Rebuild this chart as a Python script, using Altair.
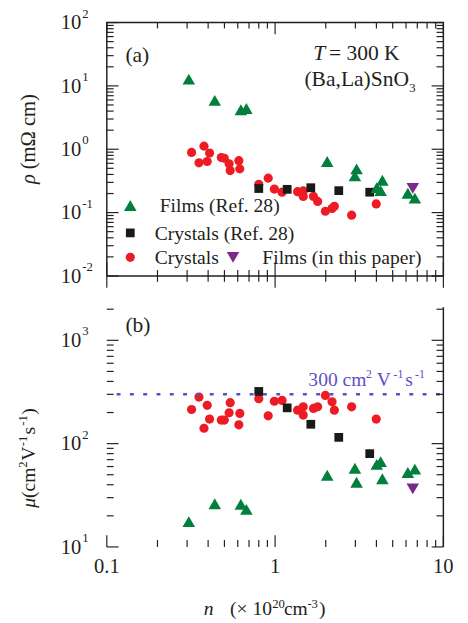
import altair as alt
import pandas as pd

FONT = "Liberation Serif"
INK = "#231f20"

# ---------------- data (n in 1e20 cm^-3) ----------------
red_n = [0.319, 0.378, 0.353, 0.408, 0.395, 0.479, 0.499, 0.533, 0.609, 0.541, 0.617, 0.80, 0.91,
         0.99, 1.10, 1.36, 1.47, 1.47, 1.69, 1.79, 1.99, 2.18, 2.25, 2.85, 3.99]
red_rho = [0.89, 1.12, 0.61, 0.87, 0.64, 0.74, 0.72, 0.59, 0.66, 0.46, 0.49, 0.28, 0.35,
           0.235, 0.21, 0.214, 0.22, 0.18, 0.18, 0.15, 0.105, 0.116, 0.126, 0.091, 0.137]
red_mu = [214, 141, 282, 173, 235, 169, 169, 199, 152, 249, 196, 272, 186,
          257, 262, 211, 189, 227, 219, 227, 293, 254, 211, 227, 173]

black_n = [0.80, 1.18, 1.63, 2.39, 3.65]
black_rho = [0.24, 0.233, 0.247, 0.222, 0.21]
black_mu = [320, 222, 154, 115, 80]

green_n = [0.307, 0.438, 0.626, 0.675, 2.04, 2.98, 3.05, 4.02, 4.24, 4.34, 6.15, 6.77]
green_rho = [12.8, 5.9, 4.2, 4.4, 0.64, 0.38, 0.49, 0.247, 0.222, 0.324, 0.202, 0.169]
green_mu = [17.6, 26.2, 25.9, 23.1, 49.5, 57.8, 42.3, 63, 67, 45.7, 52.6, 56.6]

purple_n = [6.58]
purple_rho = [0.241]
purple_mu = [36.5]

ref_mu = [300]

# axis ticks / labels
x_major = [0.1, 1, 10]
x_labels = ["0.1", "1", "10"]
x_minor = [0.2, 0.3, 0.4, 0.5, 0.6, 0.7, 0.8, 0.9, 2, 3, 4, 5, 6, 7, 8, 9]
ya_major = [0.01, 0.1, 1, 10, 100]
ya_exp = ["-2", "-1", "0", "1", "2"]
ya_minor = [k * d for d in [0.01, 0.1, 1, 10] for k in range(2, 10)]
yb_major = [10, 100, 1000]
yb_exp = ["1", "2", "3"]
yb_minor = [k * d for d in [10, 100] for k in range(2, 10)] + [2000]

W, HA, HB = 344, 259, 245

xs = alt.Scale(type="log", domain=[0.1, 10], nice=False)
ysa = alt.Scale(type="log", domain=[0.01, 100], nice=False)
ysb = alt.Scale(type="log", domain=[10, 2090], nice=False)

COL_RED, COL_BLACK, COL_GREEN, COL_PURPLE = "#ed1c24", "#1a1a1a", "#00803c", "#7b2a8a"
COL_REF = "#5b4fc9"
S_CIR, S_SQ, S_TRI = 88, 80, 165


def pts(ns, vs, ys, shape, size, color, axis=None):
    df = pd.DataFrame({"n": ns, "v": vs})
    if axis is None:
        xe = alt.X("n:Q", scale=xs, axis=None)
        ye = alt.Y("v:Q", scale=ys, axis=None)
    else:
        xe = alt.X("n:Q", scale=xs, axis=axis, title=None)
        ye = alt.Y("v:Q", scale=ys, axis=axis, title=None)
    return alt.Chart(df).mark_point(shape=shape, size=size, filled=True, color=color,
                                    opacity=1, strokeWidth=0).encode(x=xe, y=ye)


def yticks(vals, ys, length, side):
    df = pd.DataFrame({"v": vals})
    if side == "left":
        x1, x2 = 0, length
    else:
        x1, x2 = W, W - length
    return alt.Chart(df).mark_rule(color=INK, strokeWidth=1.2).encode(
        y=alt.Y("v:Q", scale=ys, axis=None), x=alt.value(x1), x2=alt.value(x2))


def xticks(vals, y1, y2):
    df = pd.DataFrame({"v": vals})
    return alt.Chart(df).mark_rule(color=INK, strokeWidth=1.2).encode(
        x=alt.X("v:Q", scale=xs, axis=None), y=alt.value(y1), y2=alt.value(y2))


def ylabels(vals, exps, ys):
    df = pd.DataFrame({"v": vals, "e": exps, "b": ["10"] * len(vals)})
    base = alt.Chart(df).mark_text(align="right", baseline="alphabetic", dy=7, font=FONT,
                                   fontSize=21, color=INK).encode(
        y=alt.Y("v:Q", scale=ys, axis=None), x=alt.value(-26), text="b:N")
    sup = alt.Chart(df).mark_text(align="left", baseline="alphabetic", dy=-5, font=FONT,
                                  fontSize=13, color=INK).encode(
        y=alt.Y("v:Q", scale=ys, axis=None), x=alt.value(-25), text="e:N")
    return [base, sup]


def txt(s, x, y, size=20, color=INK, align="left", style="normal", angle=0, baseline="alphabetic"):
    df = pd.DataFrame({"t": [s]})
    return alt.Chart(df).mark_text(align=align, baseline=baseline, font=FONT, fontSize=size,
                                   color=color, fontStyle=style, angle=angle).encode(
        x=alt.value(x), y=alt.value(y), text="t:N")


def vtxt(s, x, y, size=20, style="normal"):
    return txt(s, x, y, size=size, style=style, align="left", angle=270, baseline="middle")


def sym(x, y, shape, size, color):
    df = pd.DataFrame({"k": [0]})
    return alt.Chart(df).mark_point(shape=shape, size=size, filled=True, color=color,
                                    opacity=1, strokeWidth=0).encode(x=alt.value(x), y=alt.value(y))


# ---------------- panel (a) ----------------
layers_a = [
    pts(red_n, red_rho, ysa, "circle", S_CIR, COL_RED),
    pts(black_n, black_rho, ysa, "square", S_SQ, COL_BLACK),
    pts(green_n, green_rho, ysa, "triangle-up", S_TRI, COL_GREEN),
    pts(purple_n, purple_rho, ysa, "triangle-down", S_TRI, COL_PURPLE),
    yticks(ya_major, ysa, 12, "left"), yticks(ya_minor, ysa, 7, "left"),
    yticks(ya_major, ysa, 12, "right"), yticks(ya_minor, ysa, 7, "right"),
    xticks(x_major, 0, 12), xticks(x_minor, 0, 6),
    xticks(x_major, HA - 14, HA + 12), xticks(x_minor, HA - 6, HA + 6),
    *ylabels(ya_major, ya_exp, ysa),
    txt("(a)", 19, 40, size=22),
    txt("T", 211, 38, size=22, style="italic"),
    txt("= 300 K", 227, 38, size=22),
    txt("(Ba,La)SnO", 202, 65, size=22),
    txt("3", 309, 71, size=13),
    sym(24, 187, "triangle-up", S_TRI, COL_GREEN),
    txt("Films (Ref. 28)", 54, 194),
    sym(24, 215, "square", S_SQ, COL_BLACK),
    txt("Crystals (Ref. 28)", 49, 222),
    sym(24, 240, "circle", S_CIR, COL_RED),
    txt("Crystals", 49, 247),
    sym(129, 240, "triangle-down", S_TRI, COL_PURPLE),
    txt("Films (in this paper)", 159, 247),
    vtxt("ρ", -79, 165, size=21, style="italic"),
    vtxt("(mΩ cm)", -79, 150, size=21),
]
panel_a = alt.layer(*layers_a).properties(width=W, height=HA)

# ---------------- panel (b) ----------------
dom_axis = alt.Axis(labels=False, ticks=False, grid=False, domainColor=INK, domainWidth=1.5)
ref_df = pd.DataFrame({"m": ref_mu})
xl_df = pd.DataFrame({"v": x_major, "l": x_labels})
layers_b = [
    pts(red_n, red_mu, ysb, "circle", S_CIR, COL_RED, axis=dom_axis),
    pts(black_n, black_mu, ysb, "square", S_SQ, COL_BLACK),
    pts(green_n, green_mu, ysb, "triangle-up", S_TRI, COL_GREEN),
    pts(purple_n, purple_mu, ysb, "triangle-down", S_TRI, COL_PURPLE),
    alt.Chart(ref_df).mark_rule(color=COL_REF, strokeWidth=2.5, strokeDash=[4, 9.6]).encode(
        y=alt.Y("m:Q", scale=ysb, axis=None), x=alt.value(10), x2=alt.value(W)),
    alt.Chart(pd.DataFrame({"k": [0]})).mark_rule(color=INK, strokeWidth=1.5).encode(
        x=alt.value(W), y=alt.value(0), y2=alt.value(HB)),
    yticks(yb_major, ysb, 12, "left"), yticks(yb_minor, ysb, 7, "left"),
    yticks(yb_major, ysb, 12, "right"), yticks(yb_minor, ysb, 7, "right"),
    xticks(x_major, HB - 12, HB), xticks(x_minor, HB - 7, HB),
    *ylabels(yb_major, yb_exp, ysb),
    alt.Chart(xl_df).mark_text(align="center", baseline="alphabetic", font=FONT, fontSize=21,
                               color=INK).encode(
        x=alt.X("v:Q", scale=xs, axis=None), y=alt.value(HB + 27), text="l:N"),
    txt("(b)", 19, 25, size=22),
    # 300 cm^2 V^-1 s^-1 annotation
    txt("300 cm", 206, 80, size=20, color=COL_REF),
    txt("2", 265, 72, size=12, color=COL_REF),
    txt("V", 276, 80, size=20, color=COL_REF),
    txt("-1", 293, 72, size=12, color=COL_REF),
    txt("s", 305, 80, size=20, color=COL_REF),
    txt("-1", 315, 72, size=12, color=COL_REF),
    # x title: n (x 10^20 cm^-3)
    txt("n", 99, 315, size=20, style="italic"),
    txt("(× 10", 126, 315, size=20),
    txt("20", 169, 307, size=13),
    txt("cm", 181, 315, size=20),
    txt("-3", 205, 307, size=13),
    txt(")", 217, 315, size=20),
    # y title: mu (cm^2 V^-1 s^-1)
    vtxt("μ", -79, 205, size=20, style="italic"),
    vtxt("(cm", -79, 195, size=20),
    vtxt("2", -86, 164, size=13),
    vtxt("V", -79, 157, size=20),
    vtxt("-1", -86, 142, size=13),
    vtxt("s", -79, 130, size=20),
    vtxt("-1", -86, 121, size=13),
    vtxt(")", -79, 110, size=20),
]
panel_b = alt.layer(*layers_b).properties(width=W, height=HB,
                                          view=alt.ViewBackground(stroke="transparent"))

chart = alt.vconcat(panel_a, panel_b, spacing=16).properties(
    padding={"left": 8, "top": -8, "right": 5, "bottom": 2}
).configure_view(stroke=INK, strokeWidth=1.5)

chart.save("out.html", embed_options={"renderer": "svg", "actions": False})
